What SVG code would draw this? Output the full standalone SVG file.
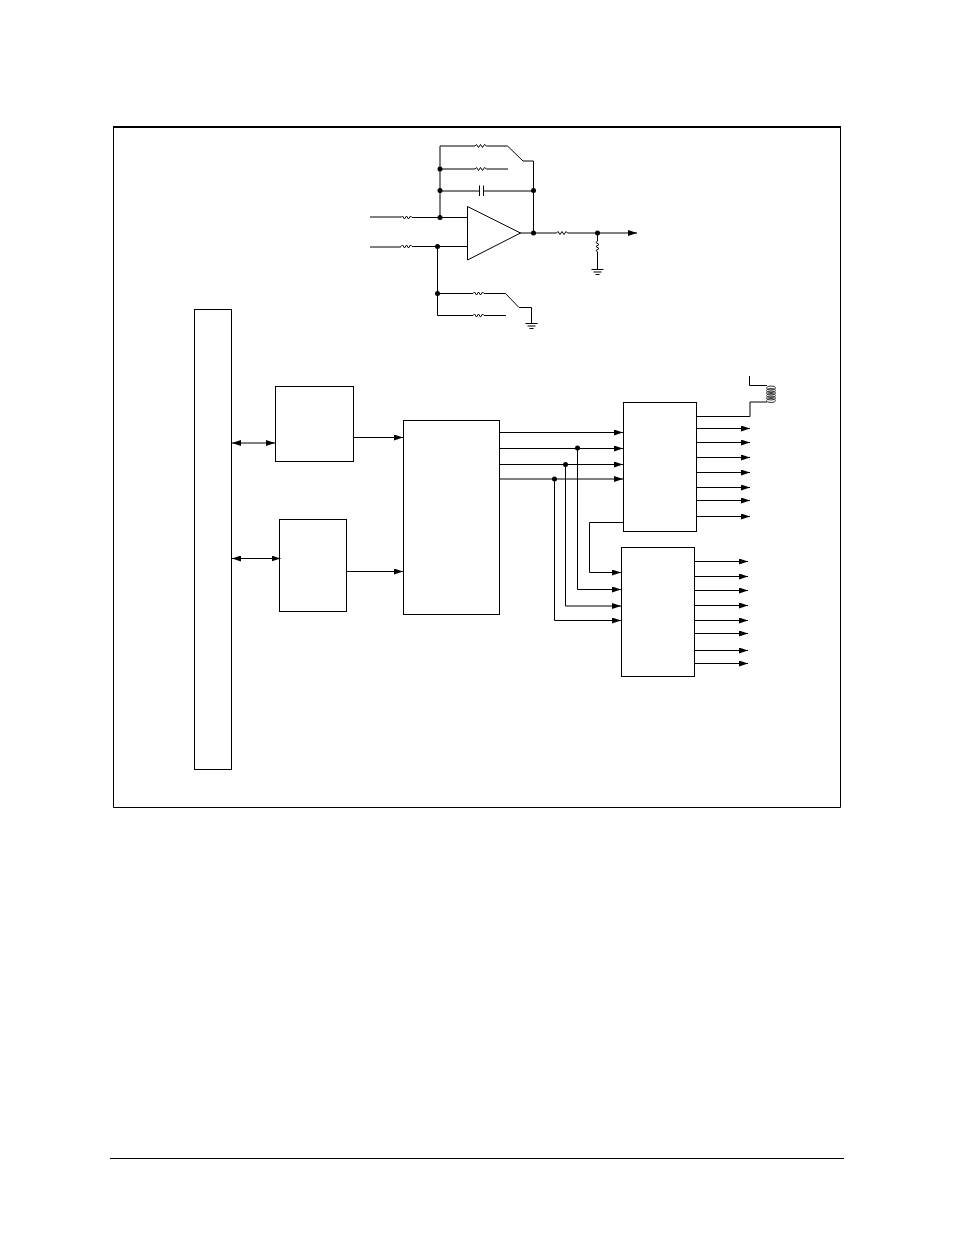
<svg xmlns="http://www.w3.org/2000/svg" width="954" height="1235" viewBox="0 0 954 1235">
<defs>
<marker id="ah" markerUnits="userSpaceOnUse" markerWidth="9" markerHeight="6" refX="9" refY="3" orient="auto"><path d="M0 0L9 3L0 6Z" fill="#000"/></marker>
<marker id="ar" markerUnits="userSpaceOnUse" markerWidth="9" markerHeight="6" refX="0" refY="3" orient="auto"><path d="M9 0L0 3L9 6Z" fill="#000"/></marker>
</defs>
<style>
.b{fill:#fff;stroke:#000;stroke-width:1}
.w{fill:none;stroke:#000;stroke-width:1}
.c{fill:none;stroke:#333;stroke-width:1}
.a{marker-end:url(#ah)}
.d{fill:#000}
</style>
<rect width="954" height="1235" fill="#fff"/>
<g id="frame"><path class="w" d="M113.500 127V807.500H840.500V127"/><path class="w" style="stroke-width:2" d="M113 127H841"/></g>
<g id="footer-rule"><path class="w" d="M110 1158.500H844"/></g>
<g id="bus"><rect class="b" x="194.500" y="309.500" width="37" height="460"/></g>
<g id="block-a"><rect class="b" x="275.500" y="386.500" width="78" height="75"/></g>
<g id="block-b"><rect class="b" x="279.500" y="519.500" width="67" height="92"/></g>
<g id="block-c"><rect class="b" x="403.500" y="420.500" width="96" height="194"/></g>
<g id="block-d"><rect class="b" x="623.500" y="402.500" width="73" height="129"/></g>
<g id="block-e"><rect class="b" x="621.500" y="547.500" width="73" height="129"/></g>
<g id="amp"><path class="b" d="M467.500 206.500V260L520.500 233Z"/></g>
<g id="connectors">
<path class="w a" style="marker-start:url(#ar)" d="M232 443H275"/>
<path class="w a" style="marker-start:url(#ar)" d="M232 558.500H280.500"/>
<path class="w" d="M354 437.500H360"/>
<path class="w a" d="M360 437.500H403"/>
<path class="w a" d="M347 571.500H403"/>
<path class="w a" d="M500 432.500H623"/>
<path class="w a" d="M500 448.500H623"/>
<path class="w a" d="M500 464.500H623"/>
<path class="w a" d="M500 479H623"/>
<path class="w a" d="M623 522.500H589.500V572.500H621"/>
<path class="w a" d="M577.500 448.500V589.500H621"/>
<path class="w a" d="M565.500 464.500V606H621"/>
<path class="w a" d="M554.500 479V620.500H621"/>
<path class="w a" d="M697 428.500H750"/>
<path class="w a" d="M697 442.500H750"/>
<path class="w a" d="M697 457.500H750"/>
<path class="w a" d="M697 472.500H750"/>
<path class="w a" d="M697 487.500H750"/>
<path class="w a" d="M697 500.500H750"/>
<path class="w a" d="M697 516.500H750"/>
<path class="w a" d="M695 561.500H748"/>
<path class="w a" d="M695 576.500H748"/>
<path class="w a" d="M695 590.500H748"/>
<path class="w a" d="M695 605.500H748"/>
<path class="w a" d="M695 620.500H748"/>
<path class="w a" d="M695 633.500H748"/>
<path class="w a" d="M695 650.500H748"/>
<path class="w a" d="M695 663.500H748"/>
<path class="w" d="M697 416.500H750V402H767"/>
<path class="w" d="M749.500 376V385.500H767"/>
<g class="c">
<ellipse class="c" cx="771" cy="388" rx="4.500" ry="2"/>
<ellipse class="c" cx="771" cy="390.500" rx="4.500" ry="2"/>
<ellipse class="c" cx="771" cy="393" rx="4.500" ry="2"/>
<ellipse class="c" cx="771" cy="395.500" rx="4.500" ry="2"/>
<ellipse class="c" cx="771" cy="398" rx="4.500" ry="2"/>
<ellipse class="c" cx="771" cy="400.500" rx="4.500" ry="2"/>
</g>
<path class="w" d="M440 217V146H475l1.500 -1.500l2 3l2 -3l2 3l2 -3l2 1.500H507.500L523 161H533.500V233"/>
<path class="w" d="M440 169H475l1.500 -1.500l2 3l2 -3l2 3l2 -3l2 1.500H508"/>
<path class="w" d="M440 191H479.500M483.500 191H534"/>
<path class="w" d="M479.500 185.500V196M483.500 185.500V196"/>
<path class="w" d="M370 217H401"/>
<path class="w" d="M401 217.500l1.500 -1.500l2 3l2 -3l2 3l2 -3l1.500 1.500H467.500"/>
<path class="w" d="M370 247H401"/>
<path class="w" d="M401 246.500l1.500 -1.500l2 3l2 -3l2 3l2 -3l1.500 1.500H467.500"/>
<path class="w" d="M437.500 246.500V315.500H473l1.500 -1.500l2 3l2 -3l2 3l2 -3l1.500 1.500H506"/>
<path class="w" d="M437.500 293.500H473l1.500 -1.500l2 3l2 -3l2 3l2 -3l1.500 1.500H505.500L519 307.500H531.500V323"/>
<path class="w" d="M525.500 323.500H537.500M527.500 326H535.500M529.500 328.500H533.500"/>
<path class="w a" d="M520 233H556.500l1.500 -1.500l2 3l2 -3l2 3l2 -3l1.500 1.500H637"/>
<path class="w" d="M597.500 233V241l-1.500 1.500l3 2l-3 2l3 2l-3 2l1.500 1.500V269"/>
<path class="w" d="M591.500 269.500H603.500M593.500 272H601.500M595.500 274.500H599.500"/>
</g>
<g id="junctions">
<circle class="d" cx="440" cy="169" r="2.500"/>
<circle class="d" cx="440" cy="190.500" r="2.500"/>
<circle class="d" cx="440" cy="217.500" r="2.500"/>
<circle class="d" cx="437.500" cy="246.500" r="2.500"/>
<circle class="d" cx="437.500" cy="293.500" r="2.500"/>
<circle class="d" cx="533.500" cy="190.500" r="2.500"/>
<circle class="d" cx="533.500" cy="233" r="2.500"/>
<circle class="d" cx="597.500" cy="233" r="2.500"/>
<circle class="d" cx="577.500" cy="448" r="2.500"/>
<circle class="d" cx="565.500" cy="464.500" r="2.500"/>
<circle class="d" cx="554.500" cy="479" r="2.500"/>
</g>
</svg>
